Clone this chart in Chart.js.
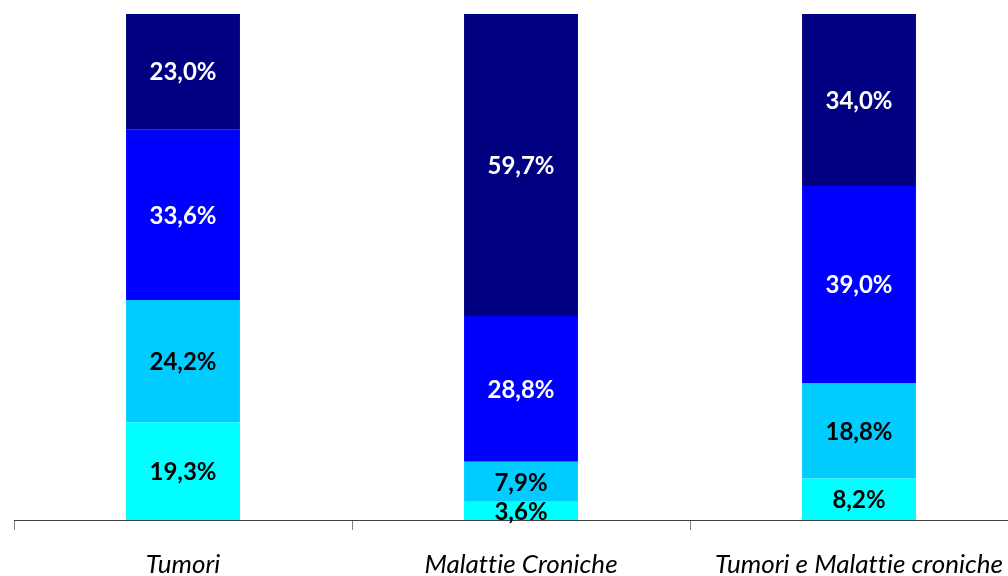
<!DOCTYPE html>
<html>
<head>
<meta charset="utf-8">
<script src="https://cdn.jsdelivr.net/npm/chart.js@4/dist/chart.umd.min.js"></script>
<style>
  html, body { margin: 0; padding: 0; background: #fff; overflow: hidden; }
  #wrap { width: 1040px; height: 576px; }
</style>
</head>
<body>
<div id="wrap"><canvas id="c" width="1040" height="576"></canvas></div>
<script>
const categories = ["Tumori", "Malattie Croniche", "Tumori e Malattie croniche"];
const seriesA = [19.3, 3.6, 8.2];
const seriesB = [24.2, 7.9, 18.8];
const seriesC = [33.6, 28.8, 39.0];
const seriesD = [23.0, 59.7, 34.0];

const fillColors = ["#00FFFF", "#00CCFF", "#0000FF", "#000080"];
const labelColors = ["#000000", "#000000", "#FFFFFF", "#FFFFFF"];

// no "tt" ligatures from Lato
const noLigatures = {
  id: "noLigatures",
  beforeDraw(chart) {
    chart.ctx.textRendering = "optimizeSpeed";
    chart.ctx.fontVariantLigatures = "none";
  }
};

// draws the value in the middle of each segment
const barLabels = {
  id: "barLabels",
  afterDatasetsDraw(chart) {
    const ctx = chart.ctx;
    ctx.save();
    ctx.font = "bold 24px Lato";
    ctx.textAlign = "center";
    ctx.textBaseline = "middle";
    chart.data.datasets.forEach((ds, i) => {
      const meta = chart.getDatasetMeta(i);
      ctx.fillStyle = labelColors[i];
      meta.data.forEach((bar, j) => {
        const txt = ds.data[j].toFixed(1).replace(".", ",") + "%";
        const y = (bar.y + bar.base) / 2;
        ctx.fillText(txt, bar.x, y + 1);
      });
    });
    ctx.restore();
  }
};

new Chart(document.getElementById("c"), {
  type: "bar",
  data: {
    labels: categories,
    datasets: [seriesA, seriesB, seriesC, seriesD].map((d, i) => ({
      data: d,
      backgroundColor: fillColors[i],
      borderWidth: 0,
      categoryPercentage: 1,
      barPercentage: 0.337
    }))
  },
  options: {
    responsive: false,
    animation: false,
    layout: { padding: { left: 14, right: 12, top: 14, bottom: 0 } },
    plugins: { legend: { display: false }, tooltip: { enabled: false } },
    scales: {
      x: {
        stacked: true,
        afterFit: s => { s.height = 56; },
        grid: {
          offset: true,
          drawOnChartArea: false,
          drawTicks: true,
          tickLength: 10,
          color: "#808080"
        },
        border: { color: "#404040", width: 1 },
        ticks: {
          padding: 19,
          color: "#000",
          font: { family: "Lato", size: 26, style: "italic" },
          maxRotation: 0,
          autoSkip: false
        }
      },
      y: {
        stacked: true,
        display: false,
        min: 0,
        max: 100
      }
    }
  },
  plugins: [noLigatures, barLabels]
});
</script>
</body>
</html>
